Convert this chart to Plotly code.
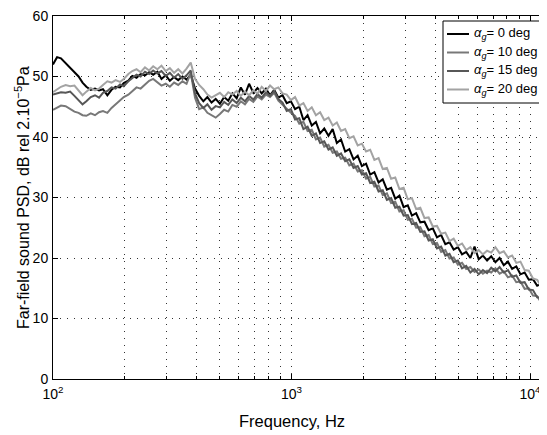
import plotly.graph_objects as go

freq_hz = [100, 104, 108, 113, 118, 123, 128, 133, 138, 144, 150, 156, 162, 169, 176, 183, 191, 198, 207, 215,
           224, 233, 243, 253, 263, 274, 285, 297, 309, 322, 335, 349, 363, 378, 394, 410, 427, 444, 462, 481,
           501, 522, 543, 565, 589, 613, 638, 664, 692, 720, 750, 781, 813, 846, 881, 917, 955, 994, 1035, 1078,
           1122, 1168, 1216, 1266, 1318, 1372, 1429, 1488, 1549, 1613, 1679, 1748, 1820, 1895, 1973, 2054, 2138, 2226, 2318, 2413,
           2512, 2616, 2723, 2835, 2952, 3073, 3199, 3331, 3468, 3611, 3758, 3913, 4074, 4241, 4416, 4597, 4786, 4983, 5188, 5401,
           5623, 5854, 6095, 6346, 6607, 6878, 7161, 7456, 7762, 8081, 8414, 8760, 9120, 9495, 9886, 10292, 10715, 11156, 11614, 12092]

psd_0deg = [52.0, 53.2, 53.0, 52.2, 51.6, 50.8, 50.0, 49.0, 48.3, 47.8, 48.0, 47.7, 47.9, 46.9, 47.8, 48.3, 48.2, 48.9, 49.3, 50.1,
            49.8, 50.4, 50.2, 50.7, 50.3, 50.8, 49.6, 50.2, 49.3, 49.9, 49.4, 50.0, 49.5, 50.3, 48.0, 46.8, 45.9, 46.6, 45.7, 46.3,
            45.5, 46.6, 46.0, 47.2, 46.4, 48.2, 47.0, 48.8, 47.3, 48.1, 47.2, 48.0, 46.9, 47.8, 46.5, 46.9, 45.6, 45.9, 44.6, 45.0,
            42.8, 43.6, 41.9, 42.5, 40.6, 41.4, 40.2, 41.3, 39.0, 39.6, 37.6, 38.0, 36.3, 36.9, 35.2, 35.6, 33.8, 34.2, 32.5, 33.0,
            31.3, 31.6, 29.8, 30.3, 28.4, 28.7, 27.0, 27.4, 25.9, 26.0, 24.6, 24.9, 23.4, 23.8, 22.3, 22.6, 21.4, 21.8, 20.6, 21.0,
            20.0, 21.9, 19.8, 20.4, 19.6, 20.3, 19.3, 20.0, 18.8, 19.4, 18.2, 18.6, 17.3, 17.6, 16.4, 16.5, 15.4, 15.7, 14.6, 15.0]

psd_10deg = [44.5, 44.8, 45.2, 45.1, 44.6, 44.2, 44.0, 43.6, 43.5, 43.9, 43.6, 44.1, 44.3, 44.0, 44.8, 45.4, 45.9, 46.6, 47.0, 47.6,
             48.2, 48.0, 48.7, 49.3, 49.6, 49.0, 48.5, 48.8, 48.3, 49.0, 48.6, 49.2, 48.8, 50.6, 46.5, 44.6, 44.9, 44.0, 43.6, 43.2,
             43.8, 44.5, 44.2, 45.3, 45.0, 45.9, 45.4, 46.3, 45.8, 46.7, 46.2, 47.0, 46.6, 47.3, 46.0, 45.3, 44.7, 44.0, 43.5, 42.2,
             42.5, 41.0, 41.2, 39.6, 39.9, 38.4, 38.7, 37.4, 37.6, 36.4, 36.6, 35.3, 35.6, 34.3, 34.5, 33.1, 33.4, 31.8, 32.0, 30.4,
             30.7, 29.1, 29.3, 27.7, 27.9, 26.3, 26.5, 25.0, 25.1, 23.6, 23.8, 22.3, 22.5, 21.0, 21.3, 19.9, 20.1, 18.9, 19.2, 18.2,
             18.5, 17.7, 18.1, 17.4, 17.9, 17.6, 18.3, 17.4, 17.8, 16.8, 17.1, 16.0, 16.1, 14.9, 15.0, 13.8, 13.7, 12.6, 12.8, 11.6]

psd_15deg = [47.0, 47.2, 47.4, 47.3, 47.5, 46.8, 46.0, 45.4, 45.9, 46.6, 46.9, 46.5, 47.3, 47.6, 48.2, 48.0, 48.7, 48.4, 49.2, 49.8,
             50.3, 50.0, 50.8, 50.4, 51.0, 50.5, 50.9, 50.1, 50.6, 49.8, 50.4, 49.6, 50.2, 51.0, 47.2, 45.6, 44.8, 45.4, 44.5, 45.1,
             44.9, 45.8, 45.3, 46.2, 45.6, 46.5, 45.9, 46.8, 46.2, 47.1, 46.5, 47.4, 46.8, 47.6, 46.3, 45.7, 44.3, 44.6, 42.9, 43.1,
             41.3, 41.7, 40.2, 40.6, 39.0, 39.3, 37.9, 38.3, 36.9, 37.3, 36.0, 36.3, 34.9, 35.2, 33.8, 34.0, 32.4, 32.6, 31.0, 31.2,
             29.6, 29.9, 28.3, 28.5, 27.0, 27.1, 25.6, 25.8, 24.3, 24.4, 22.9, 23.1, 21.6, 21.9, 20.4, 20.7, 19.3, 19.6, 18.3, 18.7,
             17.6, 18.2, 17.3, 18.0, 17.5, 18.4, 17.8, 18.5, 17.6, 18.0, 16.9, 17.1, 15.9, 16.0, 14.8, 14.7, 13.5, 13.4, 12.2, 12.4]

psd_20deg = [47.4, 47.8, 48.3, 48.6, 48.4, 48.5, 47.6, 46.9, 47.5, 48.1, 47.7, 48.0, 48.6, 49.2, 49.0, 49.4, 49.1, 49.6, 50.4, 50.9,
             51.2, 50.7, 51.5, 51.0, 51.7, 51.2, 51.8, 50.9, 51.4, 50.6, 51.2, 50.5, 51.3, 52.3, 49.6, 48.6, 47.9, 47.0, 46.5, 46.9,
             47.3, 46.6, 47.4, 47.0, 47.6, 46.8, 47.5, 46.9, 47.7, 47.2, 48.3, 47.6, 48.5, 47.9, 48.2, 47.2, 47.0, 46.1, 46.6, 45.2,
             45.6, 44.3, 44.9, 43.6, 44.1, 42.8, 43.2, 41.9, 42.4, 41.0, 41.3, 39.8, 40.1, 38.6, 38.9, 37.6, 37.9, 36.2, 36.5, 34.7,
             34.9, 33.1, 33.3, 31.4, 31.6, 29.7, 29.9, 28.1, 28.3, 26.6, 26.7, 25.2, 25.3, 24.0, 24.2, 22.8, 23.2, 22.0, 22.4, 21.3,
             21.8, 20.8, 21.3, 20.6, 21.2, 20.9, 21.8, 20.8, 21.1, 20.1, 20.4, 19.2, 19.4, 18.0, 17.9, 16.6, 16.4, 15.3, 15.5, 14.6]

series_names = ["0", "10", "15", "20"]
series_values = [psd_0deg, psd_10deg, psd_15deg, psd_20deg]
series_colors = ["#000000", "#787878", "#575757", "#a3a3a3"]

y_ticks = [0, 10, 20, 30, 40, 50, 60]
x_major = [100, 1000, 10000]
x_major_text = ["10<sup>2</sup>", "10<sup>3</sup>", "10<sup>4</sup>"]
x_minor = [m * d for d in (100, 1000) for m in range(2, 10)]

FONT = "Liberation Sans, Arial, Helvetica, sans-serif"
OFF = 8                     # page body margin offset of the figure div
W, H = 547, 435
# target plot box on the page: left 53, top 16, bottom 379; decade = 238.5 px
L = 53 - OFF
T = 16 - OFF
B = H - (379 - OFF)
R = 0
pw, ph = W - L - R, H - T - B
DECADE = 238.5
x_end = 2 + pw / DECADE


def px(page_x):
    return (page_x - OFF - L) / pw


def py(page_y):
    return (H - B - (page_y - OFF)) / ph


fig = go.Figure()
for name, vals, col in zip(series_names, series_values, series_colors):
    fig.add_trace(go.Scatter(x=freq_hz, y=vals, mode="lines", name=name,
                             line=dict(color=col, width=2), showlegend=False))

grid_dash = "1px,6px"
fig.update_layout(
    width=W, height=H,
    margin=dict(l=L, r=R, t=T, b=B, autoexpand=False),
    paper_bgcolor="white", plot_bgcolor="white",
    font=dict(family=FONT, size=14, color="black"),
    showlegend=False,
    xaxis=dict(type="log", range=[2, x_end], showline=True, linecolor="black", linewidth=1,
               mirror="allticks", ticks="inside", ticklen=5, tickcolor="black",
               tickmode="array", tickvals=x_major, ticktext=x_major_text,
               showgrid=True, gridcolor="#333333", griddash=grid_dash, gridwidth=1,
               zeroline=False, tickfont=dict(size=14), automargin=False,
               ticklabelstandoff=2, ticklabeloverflow="allow",
               minor=dict(tickmode="array", tickvals=x_minor, ticks="inside", ticklen=3,
                          tickcolor="black", showgrid=True, gridcolor="#333333",
                          griddash=grid_dash, gridwidth=1)),
    yaxis=dict(range=[0, 60], showline=True, linecolor="black", linewidth=1,
               mirror="allticks", ticks="inside", ticklen=5, tickcolor="black",
               tickmode="array", tickvals=y_ticks,
               showgrid=True, gridcolor="#333333", griddash=grid_dash, gridwidth=1,
               zeroline=False, tickfont=dict(size=14), ticklabelstandoff=1,
               ticklabeloverflow="allow", automargin=False),
)

# axis titles
fig.add_annotation(text="Frequency, Hz", xref="paper", yref="paper",
                   x=px(292), y=py(421), showarrow=False, xanchor="center", yanchor="middle",
                   font=dict(size=16.5, family=FONT))
fig.add_annotation(text="Far-field sound PSD, dB rel 2.10<sup>\u22125</sup>Pa", xref="paper", yref="paper",
                   x=px(22), y=py(198), showarrow=False, textangle=-90, xanchor="center", yanchor="middle",
                   font=dict(size=16, family=FONT))

# legend box (cropped at the right edge like the reference)
fig.add_shape(type="rect", xref="paper", yref="paper", x0=px(443), x1=px(620), y0=py(103), y1=py(21),
              line=dict(color="black", width=1), fillcolor="white", layer="above")
entry_y = [34, 52.5, 71, 89.5]
for name, col, ey in zip(series_names, series_colors, entry_y):
    fig.add_shape(type="line", xref="paper", yref="paper", x0=px(447), x1=px(469), y0=py(ey), y1=py(ey),
                  line=dict(color=col, width=2), layer="above")
    fig.add_annotation(text="<i>\u03b1</i><sub><i>g</i></sub>= " + name + " deg", xref="paper", yref="paper",
                       x=px(472), y=py(ey), showarrow=False, xanchor="left", yanchor="middle",
                       font=dict(size=13, family=FONT))

fig.write_html("out.html")
